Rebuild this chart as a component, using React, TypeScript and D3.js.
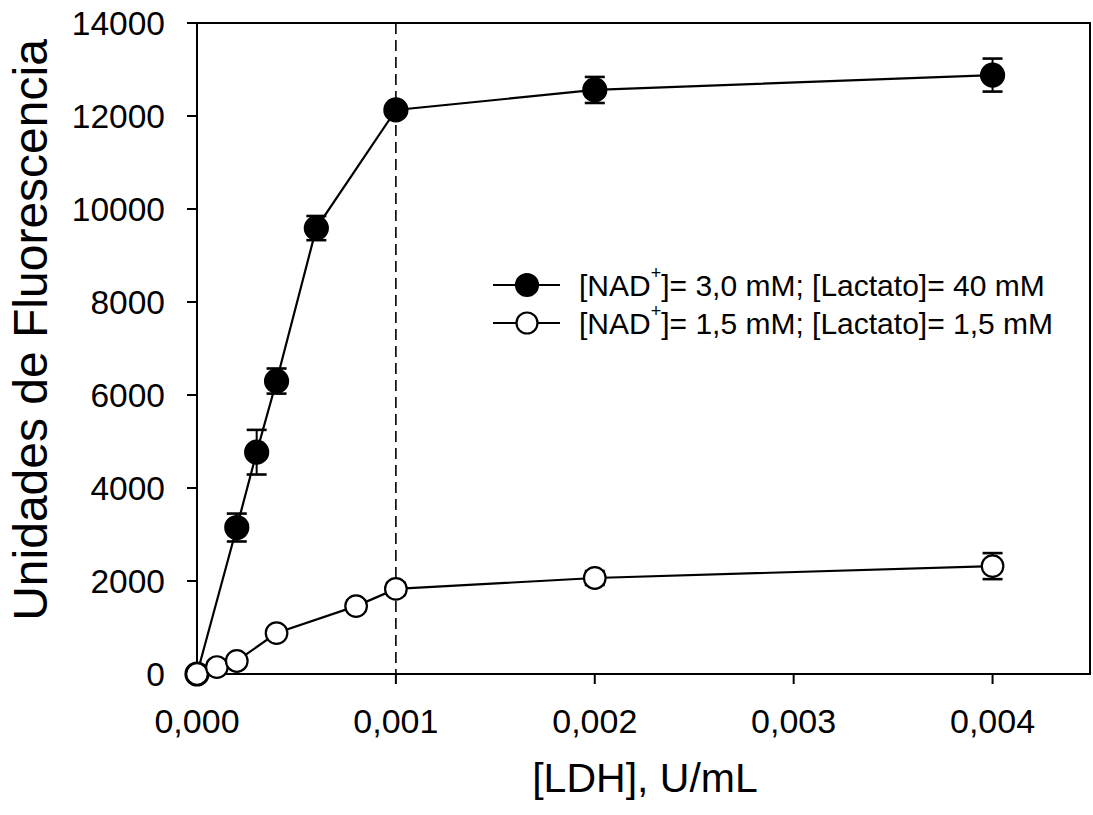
import React from "react";
import * as d3 from "d3";

const xFilled = [0, 0.0002, 0.0003, 0.0004, 0.0006, 0.001, 0.002, 0.004];
const yFilled = [0, 3150, 4770, 6300, 9590, 12130, 12560, 12880];
const eFilled = [0, 300, 480, 270, 260, 120, 280, 355];

const xOpen = [0, 0.0001, 0.0002, 0.0004, 0.0008, 0.001, 0.002, 0.004];
const yOpen = [0, 150, 280, 880, 1460, 1830, 2065, 2320];
const eOpen = [0, 40, 60, 100, 120, 130, 150, 280];

const xTicks = [0, 0.001, 0.002, 0.003, 0.004];
const yTicks = [0, 2000, 4000, 6000, 8000, 10000, 12000, 14000];

const legendLabels = [
  { pre: "[NAD", post: "]= 3,0 mM; [Lactato]= 40 mM", filled: true },
  { pre: "[NAD", post: "]= 1,5 mM; [Lactato]= 1,5 mM", filled: false },
];

const W = 1093;
const H = 815;
const FONT = "'Liberation Sans', Arial, Helvetica, sans-serif";

export default function App() {
  const x = d3.scaleLinear().domain([0, 0.0045]).range([197, 1092]);
  const y = d3.scaleLinear().domain([0, 14000]).range([674, 23]);
  const [x0, x1] = [x(0), 1090];
  const [yb, yt] = y.range();

  const line = d3
    .line<[number, number]>()
    .x((d) => x(d[0]))
    .y((d) => y(d[1]));

  const fmt = (v: number) => v.toFixed(3).replace(".", ",");

  const series = [
    { xs: xFilled, ys: yFilled, es: eFilled, filled: true },
    { xs: xOpen, ys: yOpen, es: eOpen, filled: false },
  ];

  return (
    <svg
      width={W}
      height={H}
      style={{ position: "absolute", left: 0, top: 0, background: "#fff" }}
      fontFamily={FONT}
    >
      <rect x={0} y={0} width={W} height={H} fill="#fff" />
      {/* dashed reference line */}
      <line
        x1={x(0.001)}
        x2={x(0.001)}
        y1={yt}
        y2={yb}
        stroke="#000"
        strokeWidth={1.6}
        strokeDasharray="11,6"
      />
      {/* frame */}
      <rect
        x={x0}
        y={yt}
        width={x1 - x0}
        height={yb - yt}
        fill="none"
        stroke="#000"
        strokeWidth={2}
      />
      {/* y ticks */}
      {yTicks.map((t) => (
        <g key={"y" + t}>
          <line x1={x0 - 10} x2={x0} y1={y(t)} y2={y(t)} stroke="#000" strokeWidth={2} />
          <text
            x={165}
            y={y(t)}
            textAnchor="end"
            dominantBaseline="central"
            fontSize={33.5}
          >
            {t}
          </text>
        </g>
      ))}
      {/* x ticks */}
      {xTicks.map((t) => (
        <g key={"x" + t}>
          <line x1={x(t)} x2={x(t)} y1={yb} y2={yb + 10} stroke="#000" strokeWidth={2} />
          <text x={x(t)} y={733} textAnchor="middle" fontSize={34}>
            {fmt(t)}
          </text>
        </g>
      ))}
      {/* axis titles */}
      <text x={645} y={792} textAnchor="middle" fontSize={41}>
        [LDH], U/mL
      </text>
      <text
        transform={`translate(47,330) rotate(-90)`}
        textAnchor="middle"
        fontSize={48}
      >
        Unidades de Fluorescencia
      </text>
      {/* series */}
      {series.map((s, si) => {
        const pts: [number, number][] = s.xs.map((v, i) => [v, s.ys[i]]);
        return (
          <g key={"s" + si}>
            <path d={line(pts) || ""} fill="none" stroke="#000" strokeWidth={2.2} />
            {pts.map((p, i) => {
              const e = s.es[i];
              if (!e) return null;
              const cx = x(p[0]);
              return (
                <g key={"e" + i} stroke="#000">
                  <line x1={cx} x2={cx} y1={y(p[1] + e)} y2={y(p[1] - e)} strokeWidth={2} />
                  <line x1={cx - 10} x2={cx + 10} y1={y(p[1] + e)} y2={y(p[1] + e)} strokeWidth={2.6} />
                  <line x1={cx - 10} x2={cx + 10} y1={y(p[1] - e)} y2={y(p[1] - e)} strokeWidth={2.6} />
                </g>
              );
            })}
            {pts.map((p, i) => (
              <circle
                key={"c" + i}
                cx={x(p[0])}
                cy={y(p[1])}
                r={s.filled ? 11.5 : 10.8}
                fill={s.filled ? "#000" : "#fff"}
                stroke="#000"
                strokeWidth={2.2}
              />
            ))}
          </g>
        );
      })}
      {/* legend */}
      {legendLabels.map((l, i) => {
        const ly = 285 + i * 38;
        return (
          <g key={"l" + i}>
            <line x1={493} x2={560} y1={ly} y2={ly} stroke="#000" strokeWidth={2} />
            <circle
              cx={527}
              cy={ly}
              r={l.filled ? 11 : 10.5}
              fill={l.filled ? "#000" : "#fff"}
              stroke="#000"
              strokeWidth={2.2}
            />
            <text x={579} y={ly} dominantBaseline="central" fontSize={30}>
              {l.pre}
              <tspan fontSize={18} dy={-12}>
                +
              </tspan>
              <tspan dy={12}>{l.post}</tspan>
            </text>
          </g>
        );
      })}
    </svg>
  );
}
